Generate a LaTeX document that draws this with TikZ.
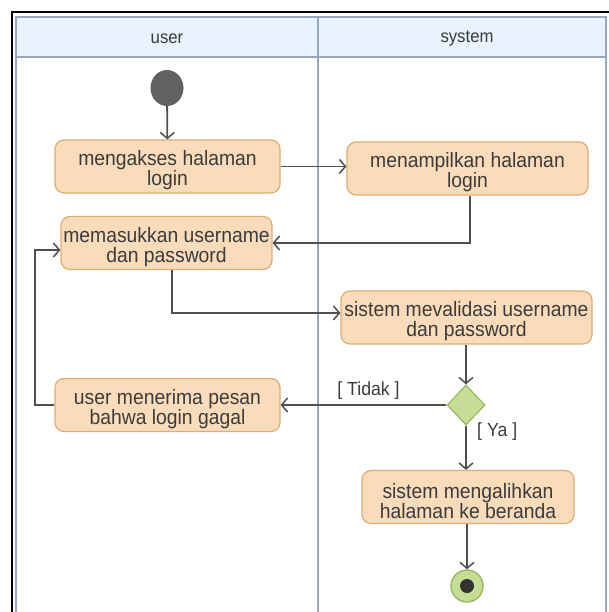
\documentclass[tikz,border=0pt]{standalone}
\usepackage{fontspec}
\setmainfont[FakeStretch=0.93]{Liberation Sans}
\usetikzlibrary{arrows.meta,shapes.geometric}
\definecolor{actfill}{RGB}{250,219,186}
\definecolor{actline}{RGB}{222,174,118}
\definecolor{lanehead}{RGB}{232,243,253}
\definecolor{laneline}{RGB}{150,168,186}
\definecolor{flow}{RGB}{80,80,80}
\definecolor{decfill}{RGB}{197,221,148}
\definecolor{decline}{RGB}{150,186,96}
\definecolor{txt}{RGB}{60,60,60}
\begin{document}
\begin{tikzpicture}[x=1pt,y=-1pt,
  activity/.style={draw=actline,fill=actfill,line width=1.2pt,rounded corners=9pt,
    minimum height=53pt,inner sep=0pt},
  acttext/.style={align=center,text=txt,font=\fontsize{20.8}{19.8}\selectfont,inner sep=0pt,yshift=-4pt},
  flowline/.style={draw=flow,line width=1.8pt,-{Straight Barb[length=6pt,width=14pt,line width=1.5pt]}},
  guard/.style={text=txt,font=\fontsize{19}{19}\selectfont}]
\useasboundingbox (0,0) rectangle (609,612);
\fill[white] (0,0) rectangle (609,612);
% swimlane pool
\fill[lanehead] (16,17) rectangle (606,57);
\draw[laneline,line width=1.2pt] (16,612) -- (16,17) -- (606,17) -- (606,612);
\draw[laneline,line width=1.2pt] (16,57) -- (606,57);
\draw[laneline,line width=1.2pt] (318,17) -- (318,612);
\node[text=txt,font=\fontsize{18}{19}\selectfont] (hu) at (167,39) {user};
\node[text=txt,font=\fontsize{18}{19}\selectfont] (hs) at (467,39) {system};
% outer frame
\draw[black,line width=2.2pt] (12,612) -- (12,12) -- (609,12);
% nodes
\node[ellipse,fill=flow!90,minimum width=33pt,minimum height=36pt,inner sep=0pt] (start) at (167,88) {};
\node[activity,minimum width=225pt,label={[acttext]center:{mengakses halaman\\login}}] (a1) at (167.5,166.5) {};
\node[activity,minimum width=241pt,label={[acttext]center:{menampilkan halaman\\login}}] (a2) at (467.5,168.5) {};
\node[activity,minimum width=211pt,label={[acttext]center:{memasukkan username\\dan password}}] (a3) at (166.5,243) {};
\node[activity,minimum width=251pt,label={[acttext]center:{sistem mevalidasi username\\dan password}}] (a4) at (466.5,317.5) {};
\node[diamond,draw=decline,fill=decfill,line width=1.2pt,minimum width=38pt,minimum height=40pt,inner sep=0pt] (d) at (466,405) {};
\node[activity,minimum width=225pt,label={[acttext]center:{user menerima pesan\\bahwa login gagal}}] (a5) at (167.5,405) {};
\node[activity,minimum width=212pt,label={[acttext]center:{sistem mengalihkan\\halaman ke beranda}}] (a6) at (468,497) {};
\node[circle,draw=decline,fill=decfill,line width=1.4pt,minimum size=32pt,inner sep=0pt] (end) at (467,586) {};
\node[circle,fill=black!80,minimum size=14pt,inner sep=0pt] (endc) at (end) {};
% flows
\draw[flowline] (start) -- (a1);
\draw[flowline] (a1.east) -- (a1.east -| a2.west);
\draw[flowline] (a2.south -| 470,0) |- (a3.east);
\draw[flowline] (a3.south -| 172,0) |- (a4.west |- 0,313);
\draw[flowline] (a4.south -| d.north) -- (d.north);
\draw[flowline] (d.west) -- node[guard,above,pos=0.47,yshift=1pt] {[ Tidak ]} (a5.east);
\coordinate (loopc) at (35,405);
\draw[flowline] (a5.west) -- (loopc) |- (a3.west |- 0,250);
\draw[flowline] (d.south) -- node[guard,right,pos=0.14,xshift=7pt] {[ Ya ]} (a6.north -| d.south);
\draw[flowline] (a6.south -| end.north) -- (end.north);
\end{tikzpicture}
\end{document}
